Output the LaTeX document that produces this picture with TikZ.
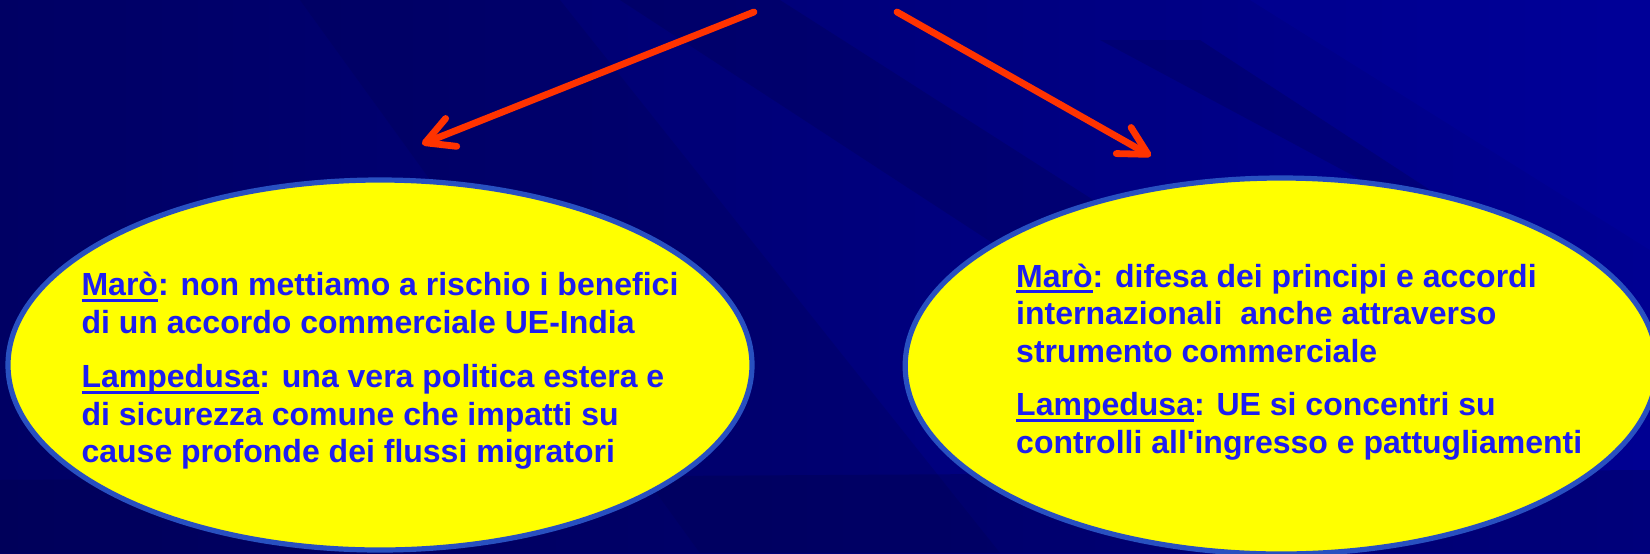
\documentclass[tikz,border=0pt]{standalone}
\usepackage{fontspec}
\setmainfont{Liberation Sans}
\usepackage{tikz}
\usetikzlibrary{shapes.geometric, arrows.meta, positioning}
\definecolor{SlideLeft}{RGB}{0,0,100}
\definecolor{SlideRight}{RGB}{0,0,146}
\definecolor{BandDark}{RGB}{0,0,70}
\definecolor{BandLight}{RGB}{0,0,175}
\definecolor{BubbleYellow}{RGB}{255,255,0}
\definecolor{BubbleEdge}{RGB}{40,80,192}
\definecolor{TextBlue}{RGB}{30,30,240}
\definecolor{ArrowRed}{RGB}{255,51,0}
\tikzstyle{bubble} = [ellipse, draw=BubbleEdge, line width=2.6pt, fill=BubbleYellow, inner sep=0pt]
\tikzstyle{txt} = [align=left, text=TextBlue, inner sep=0pt, font=\fontsize{16pt}{18.75pt}\selectfont\bfseries]
\tikzstyle{arrow} = [line width=3.4pt, draw=ArrowRed, line cap=round, -{Straight Barb[length=14pt, width=15pt, round]}]
\newcommand{\who}[1]{{\setbox0\hbox{#1}\rlap{\vrule height -1.4pt depth 2.9pt width \wd0}\box0}}

\begin{document}
\begin{tikzpicture}[x=0.5pt, y=-0.5pt]
  % slide background
  \shade[left color=SlideLeft, right color=SlideRight] (0,0) rectangle (1650,553);
  \fill[BandDark, opacity=0.2] (300,0) -- (560,0) -- (1000,553) -- (700,553) -- cycle;
  \fill[BandDark, opacity=0.25] (620,0) -- (780,0) -- (1250,300) -- (1080,300) -- cycle;
  \fill[BandDark, opacity=0.25] (1100,40) -- (1200,40) -- (1430,190) -- (1380,190) -- cycle;
  \fill[BandLight, opacity=0.2] (1250,0) -- (1650,0) -- (1650,250) -- cycle;
  \fill[BandDark, opacity=0.3] (0,480) -- (1650,470) -- (1650,553) -- (0,553) -- cycle;
  \useasboundingbox (0,0) rectangle (1650,553);

  \node (maroL) [bubble, minimum width=372pt, minimum height=185pt] at (380,365) {};
  \node (maroR) [bubble, minimum width=376pt, minimum height=188pt, right=74pt of maroL, yshift=-0.5pt] {};

  \node (txtL) [txt, yshift=-3pt] at (maroL.center) {\who{Marò}: non mettiamo a rischio i benefici\\
  di un accordo commerciale UE-India\\[8.5pt]
  \who{Lampedusa}: una vera politica estera e\\
  di sicurezza comune che impatti su\\
  cause profonde dei flussi migratori};
  \node (txtR) [txt, xshift=9pt, yshift=2pt] at (maroR.center) {\who{Marò}: difesa dei principi e accordi\\
  internazionali\ \ anche attraverso\\
  strumento commerciale\\[8pt]
  \who{Lampedusa}: UE si concentri su\\
  controlli all\textquotesingle ingresso e pattugliamenti};

  \coordinate (topL) at (754,12);
  \coordinate (tipL) at (422,144);
  \coordinate (topR) at (897,12);
  \coordinate (tipR) at (1151,156);
  \draw [arrow] (topL) -- (tipL);
  \draw [arrow] (topR) -- (tipR);

\end{tikzpicture}
\end{document}
